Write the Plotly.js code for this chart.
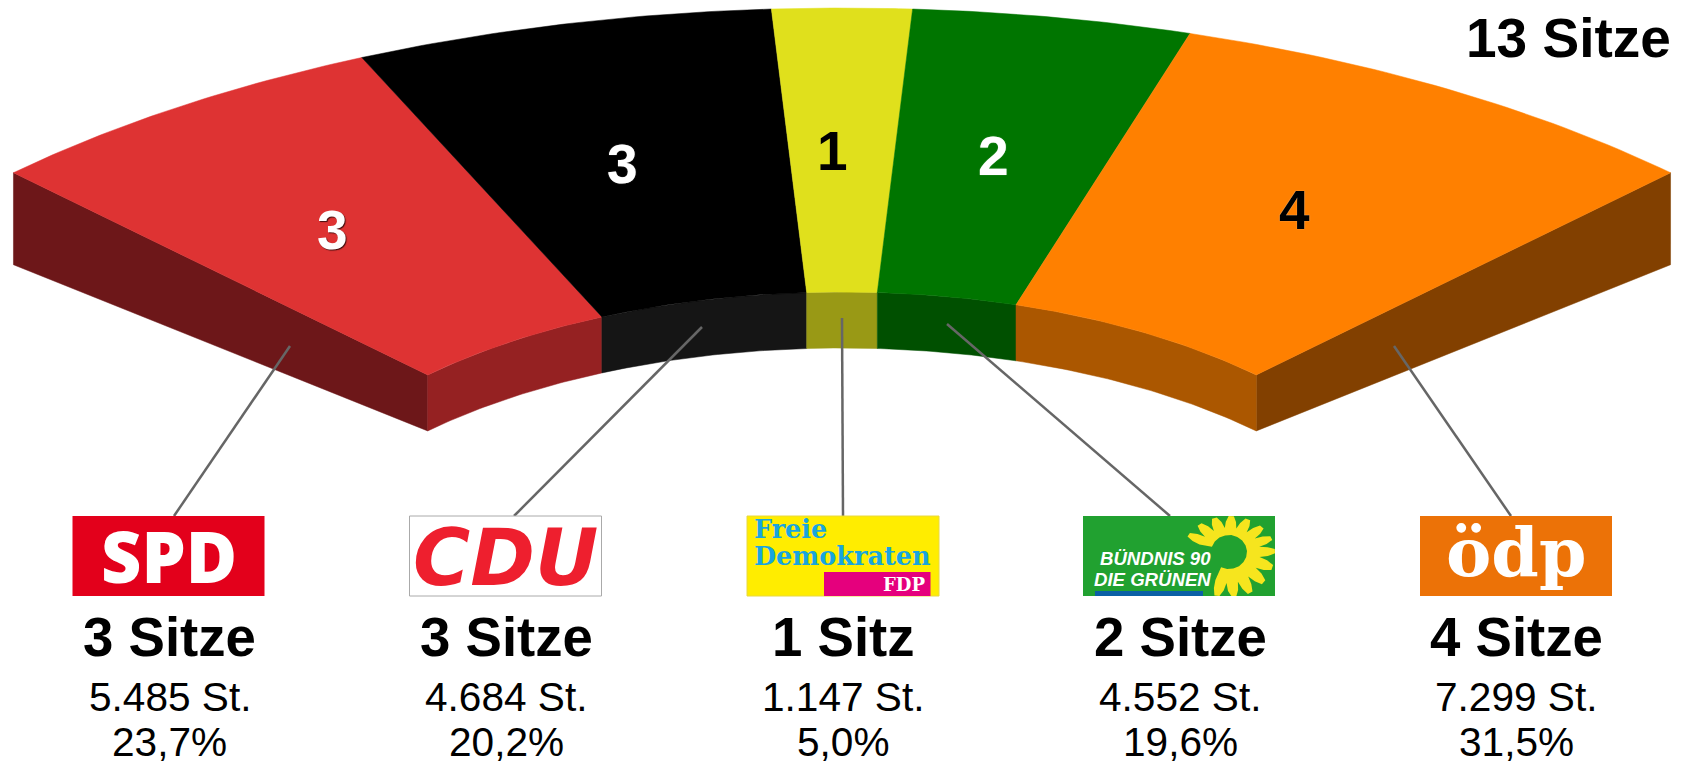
<!DOCTYPE html>
<html>
<head>
<meta charset="utf-8">
<script src="https://cdn.plot.ly/plotly-3.0.1.min.js"></script>
<style>html,body{margin:0;padding:0;background:#fff}#chart{width:1686px;height:765px}</style>
</head>
<body>
<div id="chart"></div>
<script>
// ---- data ----
const parties = ["SPD", "CDU", "FDP", "Grüne", "ÖDP"];
const seats = [3, 3, 1, 2, 4];
const seatLabels = ["3 Sitze", "3 Sitze", "1 Sitz", "2 Sitze", "4 Sitze"];
const votes = ["5.485 St.", "4.684 St.", "1.147 St.", "4.552 St.", "7.299 St."];
const shares = ["23,7%", "20,2%", "5,0%", "19,6%", "31,5%"];
const totalLabel = "13 Sitze";

// ---- style ----
const topColors = ["#DE3333", "#000000", "#E0E01C", "#007500", "#FF8000"];
const innerColors = ["#952122", "#151515", "#999915", "#005000", "#AB5700"];
const digitColors = ["#FFFFFF", "#FFFFFF", "#000000", "#FFFFFF", "#000000"];
const digitShadows = ["1px 1px 1px rgba(0,0,0,.7)", "0 0 1px rgba(255,255,255,.6)", "none", "0 0 1px rgba(255,255,255,.6)", "0 0 1px rgba(255,255,255,.8)"];
const leftWallColor = "#6D1719";
const rightWallColor = "#824000";
const leaderColor = "#666666";

// ---- geometry of the projected half-ring ----
const cx = 842, cy = 580;
const outerA = 1180, outerB = 572, innerA = 590, innerB = 288;
const halfSpan = 44.6, innerDepth = 56, outerDepth = 92;
const digitX = [332.5, 622, 832, 993.5, 1294];
const digitY = [230, 164, 151, 156, 210];
const centres = [169.5, 506, 843, 1180, 1516];
const logoLeft = [72.5, 409.5, 747, 1083, 1420];
const logoW = 192, logoTop = 516, logoBottom = 596;
const leaderTop = [[290, 346], [702, 327], [842, 318], [947, 324], [1394, 346]];
const leaderBottom = [[174, 516], [514, 516], [843, 516], [1170, 516], [1511, 516]];

function arcPoint(a, b, deg) {
  const t = deg * Math.PI / 180;
  return [cx + a * Math.cos(t), cy - b * Math.sin(t)];
}
function arc(a, b, from, to, shift) {
  const pts = [], n = 40;
  for (let i = 0; i <= n; i++) {
    const p = arcPoint(a, b, from + (to - from) * i / n);
    pts.push([p[0], p[1] + (shift || 0)]);
  }
  return pts;
}
function polyTrace(pts, color) {
  return {
    type: "scatter", mode: "lines", x: pts.map(p => p[0]), y: pts.map(p => p[1]),
    fill: "toself", fillcolor: color, line: { color: color, width: 0.5 }, hoverinfo: "skip", showlegend: false
  };
}

const totalSeats = seats.reduce((s, v) => s + v, 0);
const stepDeg = 2 * halfSpan / totalSeats;
const startDeg = 90 + halfSpan, endDeg = 90 - halfSpan;
const traces = [];

// side walls
const lo = arcPoint(outerA, outerB, startDeg), li = arcPoint(innerA, innerB, startDeg);
const ro = arcPoint(outerA, outerB, endDeg), ri = arcPoint(innerA, innerB, endDeg);
traces.push(polyTrace([lo, li, [li[0], li[1] + innerDepth], [lo[0], lo[1] + outerDepth], lo], leftWallColor));
traces.push(polyTrace([ro, ri, [ri[0], ri[1] + innerDepth], [ro[0], ro[1] + outerDepth], ro], rightWallColor));

// inner walls and top faces
let angle = startDeg;
seats.forEach((n, i) => {
  const next = angle - n * stepDeg;
  const inTop = arc(innerA, innerB, angle, next);
  const inBot = arc(innerA, innerB, next, angle, innerDepth);
  traces.push(polyTrace(inTop.concat(inBot, [inTop[0]]), innerColors[i]));
  const outTop = arc(outerA, outerB, angle, next);
  const inBack = arc(innerA, innerB, next, angle);
  traces.push(polyTrace(outTop.concat(inBack, [outTop[0]]), topColors[i]));
  angle = next;
});

// leader lines
parties.forEach((p, i) => {
  traces.push({
    type: "scatter", mode: "lines", x: [leaderTop[i][0], leaderBottom[i][0]], y: [leaderTop[i][1], leaderBottom[i][1]],
    line: { color: leaderColor, width: 2.5 }, hoverinfo: "skip", showlegend: false
  });
});

// ---- annotations ----
const SANS = "Liberation Sans";
function note(x, y, text, size, color, extra) {
  return {
    x: x, y: y, xref: "x", yref: "y", text: text, showarrow: false, xanchor: "center", yanchor: "middle",
    font: Object.assign({ family: SANS, size: size, color: color }, extra || {})
  };
}
const annotations = [];
seats.forEach((n, i) => {
  annotations.push(note(digitX[i], digitY[i], "<b>" + n + "</b>", 55, digitColors[i], { shadow: digitShadows[i] }));
  annotations.push(note(centres[i], 637, "<b>" + seatLabels[i] + "</b>", 54.6, "#000000"));
  annotations.push(note(centres[i], 697, votes[i], 40.6, "#000000"));
  annotations.push(note(centres[i], 742, shares[i], 40.6, "#000000"));
});
annotations.push(note(1568, 38, "<b>" + totalLabel + "</b>", 55, "#000000"));

// logos as text + shapes
annotations.push(note(168.5, 556, "SPD", 70, "#FFFFFF", { family: "Open Sans", weight: 800 }));
annotations.push(note(505.5, 558, "<b><i>CDU</i></b>", 78, "#EE1F2E", { family: "DejaVu Sans" }));
annotations.push(note(790, 528.5, "<b>Freie</b>", 25.5, "#18A5DE", { family: "DejaVu Serif" }));
annotations.push(note(842, 556, "<b>Demokraten</b>", 25.5, "#18A5DE", { family: "DejaVu Serif" }));
annotations.push(note(904, 584, "<b>FDP</b>", 18, "#FFFFFF", { family: "DejaVu Serif" }));
annotations.push(note(1155, 558, "<b><i>BÜNDNIS 90</i></b>", 18.6, "#FFFFFF", { family: SANS }));
annotations.push(note(1152.5, 579, "<b><i>DIE GRÜNEN</i></b>", 18.6, "#FFFFFF", { family: SANS }));
annotations.push(note(1516, 552, "<b>ödp</b>", 68, "#FFFFFF", { family: "DejaVu Serif" }));

function rect(x0, y0, x1, y1, fill, lineColor) {
  return {
    type: "rect", xref: "x", yref: "y", x0: x0, y0: y0, x1: x1, y1: y1, fillcolor: fill, layer: "above",
    line: lineColor ? { color: lineColor, width: 1 } : { width: 0 }
  };
}
const logoFills = ["#E3001B", "#FFFFFF", "#FFED00", "#21A130", "#EC7207"];
const logoBorders = [null, "#AAAAAA", "#E8D840", null, null];
const shapes = logoLeft.map((l, i) => rect(l, logoTop, l + logoW, logoBottom, logoFills[i], logoBorders[i]));
shapes.push(rect(824, 572, 930.5, logoBottom, "#E5007D"));
shapes.push(rect(1095, 591, 1203, logoBottom, "#0B5FA5"));

// sunflower
const fx = 1229, fy = 552;
const fp = [];
const petals = 13, fromDeg = 162, toDeg = -116;
function flowerPt(deg, r) {
  const d = deg * Math.PI / 180;
  const ry = Math.sin(d) > 0 ? r * 0.78 : r;
  return [fx + r * Math.cos(d), Math.min(fy - ry * Math.sin(d), logoBottom)];
}
const pw = (toDeg - fromDeg) / petals;
for (let i = 0; i < petals; i++) {
  const a = fromDeg + pw * i;
  fp.push(flowerPt(a, 31));
  fp.push(flowerPt(a + pw * 0.15, 39));
  fp.push(flowerPt(a + pw * 0.35, 46));
  fp.push(flowerPt(a + pw * 0.65, 46));
  fp.push(flowerPt(a + pw * 0.85, 39));
}
fp.push(flowerPt(toDeg, 31));
for (let i = 14; i >= 0; i--) {
  const d = (fromDeg + (toDeg - fromDeg) * i / 14) * Math.PI / 180;
  fp.push([fx + 18 * Math.cos(d), fy - 17 * Math.sin(d)]);
}
shapes.push({
  type: "path", xref: "x", yref: "y", layer: "above", fillcolor: "#F6E51E", line: { width: 0 },
  path: "M" + fp.map(p => p[0].toFixed(1) + "," + p[1].toFixed(1)).join("L") + "Z"
});

const layout = {
  width: 1686, height: 765, margin: { l: 0, r: 0, t: 0, b: 0 },
  paper_bgcolor: "#FFFFFF", plot_bgcolor: "#FFFFFF", showlegend: false,
  xaxis: { range: [0, 1686], visible: false, fixedrange: true },
  yaxis: { range: [765, 0], visible: false, fixedrange: true },
  annotations: annotations, shapes: shapes
};
Plotly.newPlot("chart", traces, layout, { displayModeBar: false, staticPlot: true });
</script>
</body>
</html>
